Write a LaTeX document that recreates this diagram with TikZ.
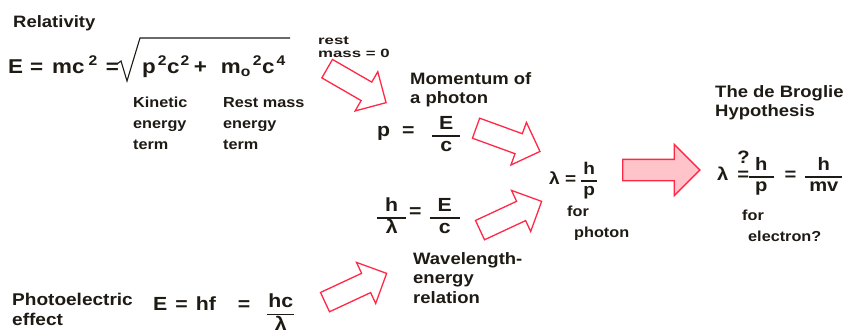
\documentclass[tikz,border=0pt]{standalone}
\usepackage{fontspec}
\setmainfont{Liberation Sans}[FakeStretch=1.12]
\usetikzlibrary{positioning,shapes.arrows}

\definecolor{inkc}{RGB}{30,26,20}
\definecolor{arrowred}{RGB}{255,40,70}
\definecolor{arrowpink}{RGB}{255,196,202}

\newcommand{\hdf}{\fontsize{16.5}{19}\selectfont\bfseries}
\newcommand{\smf}{\fontsize{14.5}{21}\selectfont\bfseries}
\newcommand{\tnf}{\fontsize{12}{13}\selectfont\bfseries\addfontfeature{FakeStretch=1.4}}
\newcommand{\eqf}{\fontsize{19}{22}\selectfont\bfseries}
% fraction in text font: [shift][bar padding]{num}{den}
\NewDocumentCommand{\fr}{O{-4pt} O{3pt} m m}{\raisebox{#1}{%
  \setlength{\arrayrulewidth}{1.4pt}%
  \renewcommand{\arraystretch}{0.95}%
  \begin{tabular}{@{\hspace{#2}}c@{\hspace{#2}}}#3\\\hline #4\end{tabular}}}

\begin{document}
\begin{tikzpicture}[x=1pt,y=-1pt,inkc,
  hd/.style={font=\hdf,align=left,anchor=north west,inner sep=0pt},
  sm/.style={font=\smf,align=left,anchor=north west,inner sep=0pt},
  eq/.style={font=\eqf,anchor=west,inner sep=0pt},
  hollow/.style={single arrow,draw=arrowred,line width=1.3pt,fill=white,
    inner xsep=0pt,inner ysep=10pt,minimum height=68pt,
    single arrow head extend=12pt},
  big/.style={single arrow,draw=arrowred,line width=1.3pt,fill=arrowpink,
    inner xsep=0pt,inner ysep=10pt,minimum height=77pt,
    single arrow head extend=15pt}]
\useasboundingbox[fill=white] (0,0) rectangle (853,335);

% relativity
\node[hd,anchor=base west] (rel) at (13,27) {Relativity};
\node[eq,font=\fontsize{20}{22}\selectfont\bfseries,anchor=base west] (releq) at (8,73)
  {E\hspace{7pt}=\hspace{9pt}mc\hspace{4pt}\textsuperscript{2}\hspace{8pt}=};
\node[eq,font=\fontsize{20}{22}\selectfont\bfseries,anchor=base west] (sqin) at (142,73)
  {p\hspace{2pt}\textsuperscript{2}c\hspace{1pt}\textsuperscript{2}\hspace{4pt}+\hspace{14pt}m\textsubscript{o}\hspace{2pt}\textsuperscript{2}c\hspace{2pt}\textsuperscript{4}};
\draw[line width=1.1pt] (sqin.base west) ++(-25,-9) -- ++(4,-3) -- ++(6,20)
  -- ++(13,-43) -- ++(150,0);
\node[sm] (kin) at (133,97) {Kinetic\\energy\\term};
\node[sm] (rest) at (223,97) {Rest mass\\energy\\term};
\node[font=\tnf,align=left,anchor=north west,inner sep=0pt] (zero) at (318,36)
  {rest\\mass = 0};

% photon momentum
\node[hd] (mom) at (410,72) {Momentum of\\a photon};
\node[eq] (peq) at (377,136) {p \ = \ \ \fr[-4pt][7pt]{E}{c}};

% photoelectric
\node[hd,font=\fontsize{17}{20}\selectfont\bfseries] (pe) at (12,293)
  {Photoelectric\\effect};
\node[eq,anchor=base west] (hf) at (153,310)
  {E\hspace{8pt}=\hspace{8pt}hf\hspace{22pt}=\hspace{17pt}\fr[-9pt][1pt]{hc}{λ}};

% wavelength-energy
\node[eq] (leq) at (377,218) {\fr[-5pt][8pt]{h}{λ}\hspace{3pt}=\hspace{8pt}\fr[-5pt][8pt]{E}{c}};
\node[hd,font=\fontsize{16.5}{19.5}\selectfont\bfseries] (wav) at (413,252)
  {Wavelength-\\energy\\relation};

% photon wavelength
\node[eq,font=\fontsize{17}{20}\selectfont\bfseries] (lph) at (549,181)
  {λ = \fr[-1pt][2pt]{h}{p}};
\node[sm] (forph) at (567,206) {for\\\hspace*{7pt}photon};

% de Broglie
\node[hd] (dbr) at (715,85) {The de Broglie\\Hypothesis};
\node[eq,font=\fontsize{18}{20}\selectfont\bfseries] (del) at (717,177)
  {λ\hspace{9pt}\rlap{\raisebox{17pt}[0pt][0pt]{?}}=\fr[-1pt][6pt]{h}{p}\hspace{11pt}=\hspace{9pt}\fr[-1pt][4pt]{h}{mv}};
\node[sm] (forel) at (742,210) {for\\\hspace*{6pt}electron?};

% block arrows
\node[hollow,rotate=-30] (a1) at (352,83) {};
\node[hollow,rotate=-20] (a2) at (503,138) {};
\node[hollow,rotate=25] (a3) at (506,218) {};
\node[hollow,rotate=25] (a4) at (351,290) {};
\node[big] (a5) at (656,170) {};
\end{tikzpicture}
\end{document}
